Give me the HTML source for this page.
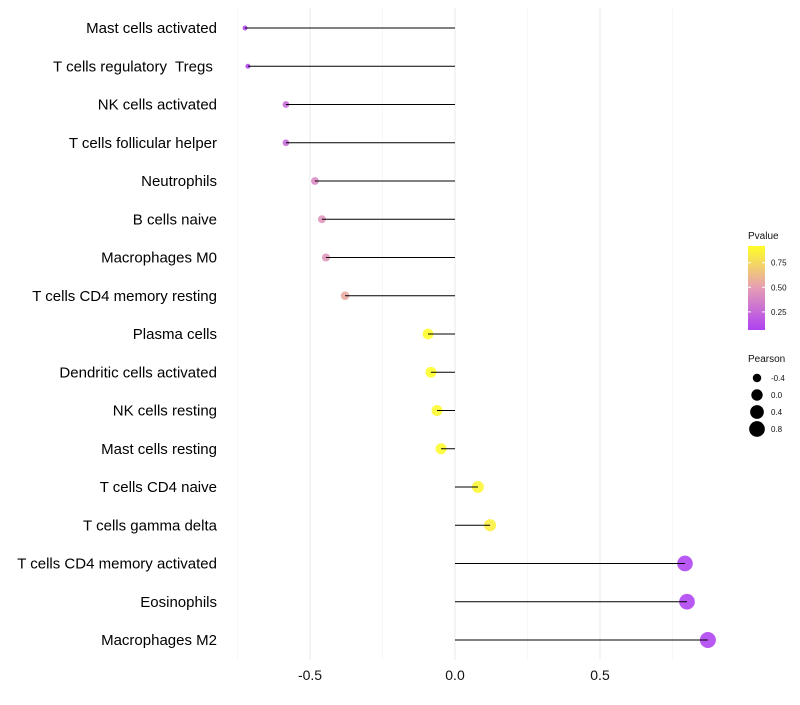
<!DOCTYPE html>
<html><head><meta charset="utf-8"><style>
body{margin:0;background:#fff;}
svg text{font-family:"Liberation Sans",sans-serif;white-space:pre;}
</style></head><body>
<svg id="chart" width="800" height="700"></svg>
<script>
const categories=["Mast cells activated","T cells regulatory  Tregs ","NK cells activated","T cells follicular helper","Neutrophils","B cells naive","Macrophages M0","T cells CD4 memory resting","Plasma cells","Dendritic cells activated","NK cells resting","Mast cells resting","T cells CD4 naive","T cells gamma delta","T cells CD4 memory activated","Eosinophils","Macrophages M2"];
const pearson=[-0.724,-0.714,-0.583,-0.583,-0.483,-0.459,-0.445,-0.379,-0.093,-0.083,-0.062,-0.048,0.079,0.121,0.793,0.8,0.872];
const pvalues=[0.07,0.08,0.25,0.25,0.4,0.45,0.45,0.55,0.92,0.92,0.9,0.9,0.88,0.85,0.07,0.07,0.07];
const xTicks=[-0.5,0,0.5];
const xTickLabels=["-0.5","0.0","0.5"];
const legendSizes=[-0.4,0,0.4,0.8];
const legendSizeLabels=["-0.4","0.0","0.4","0.8"];
const pTicks=[0.25,0.5,0.75];
const pTickLabels=["0.25","0.50","0.75"];

const NS="http://www.w3.org/2000/svg";
const svg=document.getElementById('chart');
function mk(t,a,p){const e=document.createElementNS(NS,t);for(const k in a)e.setAttribute(k,a[k]);(p||svg).appendChild(e);return e;}
const x=v=>455+v*290;
const y=i=>28+i*38.25;
const rad=v=>Math.sqrt(Math.max(4,32.4+36.3*v));
const pmin=0.066,pmax=0.92;
function lerp(a,b,t){return a.map((c,i)=>Math.round(c+(b[i]-c)*t));}
function col(p){const A=[160,32,240],M=[224,140,168],B=[255,255,0];const t=(p-pmin)/(pmax-pmin);const c=t<0.5?lerp(A,M,Math.max(0,t)/0.5):lerp(M,B,Math.min(1,(t-0.5)/0.5));return `rgb(${c})`;}

[-0.75,-0.25,0.25,0.75].forEach(v=>{const g=mk('line',{x1:x(v),x2:x(v),y1:8,y2:660,stroke:'#f2f2f2','stroke-width':0.6});

});
xTicks.forEach((v,i)=>{const g=mk('line',{x1:x(v),x2:x(v),y1:8,y2:660,stroke:'#ebebeb','stroke-width':1.1});


const t=mk('text',{x:x(v),y:680,'text-anchor':'middle','font-size':14,fill:'#111'});t.textContent=xTickLabels[i];

});

categories.forEach((c,i)=>{
const t=mk('text',{x:217,y:y(i)+5,'text-anchor':'end','font-size':15,fill:'#000'});t.textContent=c;


const pt=mk('circle',{cx:x(pearson[i]),cy:y(i),r:rad(pearson[i]),fill:col(pvalues[i]),'fill-opacity':0.75});


const ln=mk('line',{x1:x(0),x2:x(pearson[i]),y1:y(i),y2:y(i),stroke:'#000','stroke-width':1});


});

const lt=mk('text',{x:748,y:239,'font-size':10,fill:'#111'});lt.textContent='Pvalue';


const defs=mk('defs',{});const gr=mk('linearGradient',{id:'pg',x1:0,y1:1,x2:0,y2:0},defs);
[0,0.25,0.5,0.75,1].forEach(s=>{const p=pmin+s*(pmax-pmin);mk('stop',{offset:s,'stop-color':col(p),'stop-opacity':0.85},gr);});
const cb=mk('rect',{x:748,y:246,width:17,height:84,fill:'url(#pg)'});


const py=p=>330-(p-pmin)/(pmax-pmin)*84;
pTicks.forEach((p,i)=>{mk('line',{x1:748,x2:751,y1:py(p),y2:py(p),stroke:'#fff'});mk('line',{x1:762,x2:765,y1:py(p),y2:py(p),stroke:'#fff'});
const t=mk('text',{x:771,y:py(p)+3,'font-size':8,fill:'#111'});t.textContent=pTickLabels[i];

});

const st=mk('text',{x:748,y:362,'font-size':10,fill:'#111'});st.textContent='Pearson';


legendSizes.forEach((v,i)=>{const cy=378+i*17;
const c=mk('circle',{cx:757,cy:cy,r:rad(v),fill:'#000'});


const t=mk('text',{x:771,y:cy+3,'font-size':8,fill:'#111'});t.textContent=legendSizeLabels[i];

});
</script>
</body></html>
